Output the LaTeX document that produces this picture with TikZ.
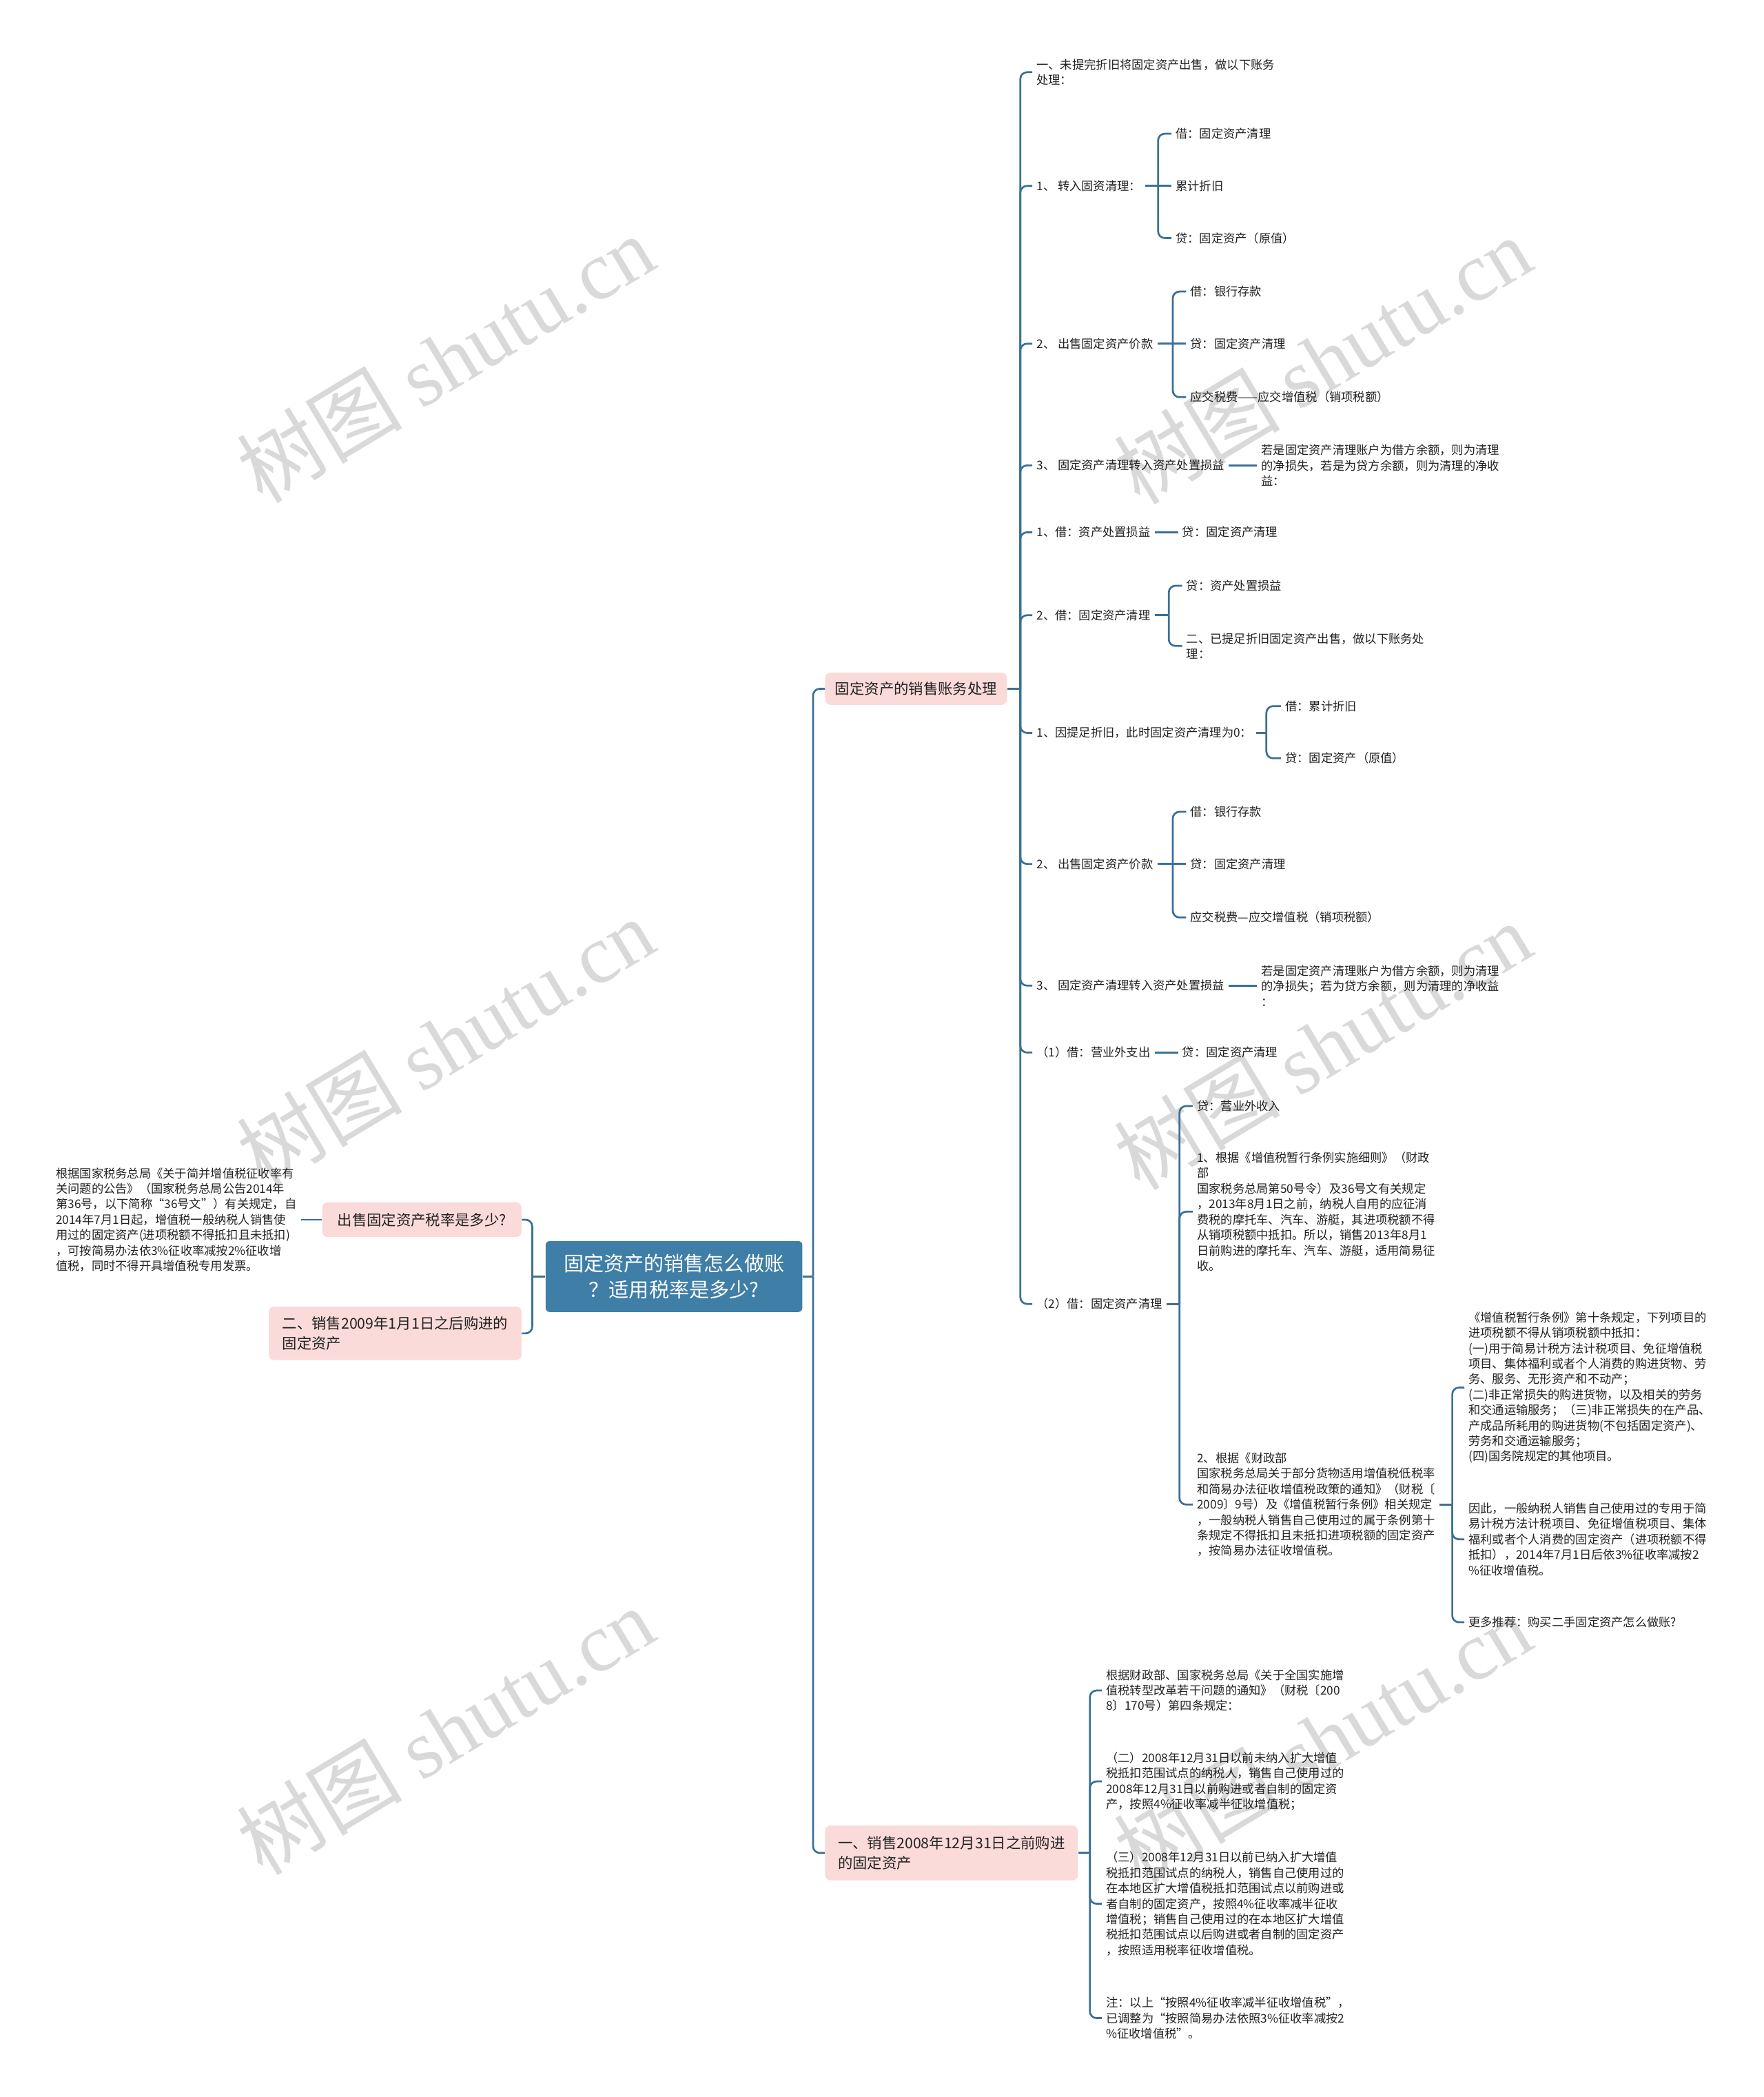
\documentclass[tikz,border=0pt]{standalone}
\usepackage{fontspec}
\setmainfont{Noto Sans CJK SC}
\newfontfamily\wmlatin{Liberation Serif}
\definecolor{linec}{HTML}{3B7096}
\definecolor{rootc}{HTML}{3F7EA6}
\definecolor{pinkc}{HTML}{FADBDA}
\definecolor{wmc}{HTML}{D9D9D9}
\definecolor{txtc}{HTML}{222222}
\tikzset{
  conn/.style={draw=linec, line width=1.4pt, rounded corners=5pt},
  leaf/.style={anchor=west, inner xsep=3pt, inner ysep=1pt, align=left, font=\fontsize{8.9}{11.55}\selectfont, text=txtc},
  br/.style={fill=pinkc, rounded corners=4pt, inner sep=0pt, font=\fontsize{11}{14.5}\selectfont, text=txtc},
  rootbox/.style={fill=rootc, rounded corners=3pt, inner sep=0pt, minimum width=192pt, minimum height=53pt, align=center, text=white, font=\fontsize{15}{20}\selectfont},
  wm/.style={rotate=31, text=wmc, font=\fontsize{62}{64}\selectfont}
}
\begin{document}
\begin{tikzpicture}[x=1pt,y=-1pt]
\useasboundingbox (0,0) rectangle (1319,1568);
\fill[white] (0,0) rectangle (1319,1568);
% watermarks
\node[wm] (wm1) at (333,268) {树图 {\wmlatin shutu.cn}};
\node[wm] (wm2) at (989,269) {树图 {\wmlatin shutu.cn}};
\node[wm] (wm3) at (333,779) {树图 {\wmlatin shutu.cn}};
\node[wm] (wm4) at (989,782) {树图 {\wmlatin shutu.cn}};
\node[wm] (wm5) at (333,1294) {树图 {\wmlatin shutu.cn}};
\node[wm] (wm6) at (989,1300) {树图 {\wmlatin shutu.cn}};
% root and main branches
\node[rootbox] (root) at (504,954.5) {固定资产的销售怎么做账\\？适用税率是多少?};
\node[br, minimum width=149pt, minimum height=26pt] (b1) at (315.5,912) {出售固定资产税率是多少?};
\node[br, minimum width=189pt, minimum height=40pt, align=left] (b2) at (295.5,997) {二、销售2009年1月1日之后购进的\\固定资产};
\node[br, minimum width=136pt, minimum height=24pt] (b3) at (685,515) {固定资产的销售账务处理};
\node[br, minimum width=189pt, minimum height=41pt, align=left] (b4) at (711.5,1385.5) {一、销售2008年12月31日之前购进\\的固定资产};
% left leaf
\node[leaf, anchor=east] (l0) at (225,912) {根据国家税务总局《关于简并增值税征收率有\\关问题的公告》（国家税务总局公告2014年\\第36号，以下简称“36号文”）有关规定，自\\2014年7月1日起，增值税一般纳税人销售使\\用过的固定资产(进项税额不得抵扣且未抵扣)\\，可按简易办法依3\%征收率减按2\%征收增\\值税，同时不得开具增值税专用发票。};
% children of b3
\node[leaf] (c1) at (772,54) {一、未提完折旧将固定资产出售，做以下账务\\处理：};
\node[leaf] (c2) at (772,139) {1、 转入固资清理：};
\node[leaf] (c2a) at (876,100) {借：固定资产清理};
\node[leaf] (c2b) at (876,139) {累计折旧};
\node[leaf] (c2c) at (876,178) {贷：固定资产（原值）};
\node[leaf] (c3) at (772,257) {2、 出售固定资产价款};
\node[leaf] (c3a) at (887,218) {借：银行存款};
\node[leaf] (c3b) at (887,257) {贷：固定资产清理};
\node[leaf] (c3c) at (887,297) {应交税费——应交增值税（销项税额）};
\node[leaf] (c4) at (772,348) {3、 固定资产清理转入资产处置损益};
\node[leaf] (c4a) at (940,348) {若是固定资产清理账户为借方余额，则为清理\\的净损失，若是为贷方余额，则为清理的净收\\益：};
\node[leaf] (c5) at (772,398) {1、借：资产处置损益};
\node[leaf] (c5a) at (881,398) {贷：固定资产清理};
\node[leaf] (c6) at (772,460) {2、借：固定资产清理};
\node[leaf] (c6a) at (884,438) {贷：资产处置损益};
\node[leaf] (c6b) at (884,483) {二、已提足折旧固定资产出售，做以下账务处\\理：};
\node[leaf] (c7) at (772,548) {1、因提足折旧，此时固定资产清理为0：};
\node[leaf] (c7a) at (958,528) {借：累计折旧};
\node[leaf] (c7b) at (958,567) {贷：固定资产（原值）};
\node[leaf] (c8) at (772,646) {2、 出售固定资产价款};
\node[leaf] (c8a) at (887,607) {借：银行存款};
\node[leaf] (c8b) at (887,646) {贷：固定资产清理};
\node[leaf] (c8c) at (887,686) {应交税费—应交增值税（销项税额）};
\node[leaf] (c9) at (772,737) {3、 固定资产清理转入资产处置损益};
\node[leaf] (c9a) at (940,737) {若是固定资产清理账户为借方余额，则为清理\\的净损失；若为贷方余额，则为清理的净收益\\：};
\node[leaf] (c10) at (772,787) {（1）借：营业外支出};
\node[leaf] (c10a) at (881,787) {贷：固定资产清理};
\node[leaf] (c11) at (772,975) {（2）借：固定资产清理};
\node[leaf] (c11a) at (892,827) {贷：营业外收入};
\node[leaf] (c11b) at (892,906) {1、根据《增值税暂行条例实施细则》（财政\\部\\国家税务总局第50号令）及36号文有关规定\\，2013年8月1日之前，纳税人自用的应征消\\费税的摩托车、汽车、游艇，其进项税额不得\\从销项税额中抵扣。所以，销售2013年8月1\\日前购进的摩托车、汽车、游艇，适用简易征\\收。};
\node[leaf] (c11c) at (892,1125) {2、根据《财政部\\国家税务总局关于部分货物适用增值税低税率\\和简易办法征收增值税政策的通知》（财税〔\\2009〕9号）及《增值税暂行条例》相关规定\\，一般纳税人销售自己使用过的属于条例第十\\条规定不得抵扣且未抵扣进项税额的固定资产\\，按简易办法征收增值税。};
\node[leaf] (d1) at (1095,1037.5) {《增值税暂行条例》第十条规定，下列项目的\\进项税额不得从销项税额中抵扣：\\(一)用于简易计税方法计税项目、免征增值税\\项目、集体福利或者个人消费的购进货物、劳\\务、服务、无形资产和不动产；\\(二)非正常损失的购进货物，以及相关的劳务\\和交通运输服务；（三)非正常损失的在产品、\\产成品所耗用的购进货物(不包括固定资产)、\\劳务和交通运输服务；\\(四)国务院规定的其他项目。};
\node[leaf] (d2) at (1095,1151) {因此，一般纳税人销售自己使用过的专用于简\\易计税方法计税项目、免征增值税项目、集体\\福利或者个人消费的固定资产（进项税额不得\\抵扣），2014年7月1日后依3\%征收率减按2\\\%征收增值税。};
\node[leaf] (d3) at (1095,1213) {更多推荐：购买二手固定资产怎么做账?};
% children of b4
\node[leaf] (e1) at (824,1264) {根据财政部、国家税务总局《关于全国实施增\\值税转型改革若干问题的通知》（财税〔200\\8〕170号）第四条规定：};
\node[leaf] (e2) at (824,1332) {（二）2008年12月31日以前未纳入扩大增值\\税抵扣范围试点的纳税人，销售自己使用过的\\2008年12月31日以前购进或者自制的固定资\\产，按照4\%征收率减半征收增值税；};
\node[leaf] (e3) at (824,1423.5) {（三）2008年12月31日以前已纳入扩大增值\\税抵扣范围试点的纳税人，销售自己使用过的\\在本地区扩大增值税抵扣范围试点以前购进或\\者自制的固定资产，按照4\%征收率减半征收\\增值税；销售自己使用过的在本地区扩大增值\\税抵扣范围试点以后购进或者自制的固定资产\\，按照适用税率征收增值税。};
\node[leaf] (e4) at (824,1509) {注：以上“按照4\%征收率减半征收增值税”，\\已调整为“按照简易办法依照3\%征收率减按2\\\%征收增值税”。};
% connectors: root
\coordinate (j0) at (608,954.5);
\draw[conn] (root.east) -- (j0);
\draw[conn] (j0) |- (b3.west);
\draw[conn] (j0) |- (b4.west);
\coordinate (j1) at (398,954.5);
\draw[conn] (root.west) -- (j1);
\draw[conn] (j1) |- (b1.east);
\draw[conn] (j1) |- (b2.east);
\draw[conn] (b1.west) -- (l0.east);
% b3 subtree
\coordinate (j2) at (763,515);
\draw[conn] (b3.east) -- (j2);
\foreach \n in {c1,c2,c3,c4,c5,c6,c7,c8,c9,c10,c11} {\draw[conn] (j2) |- (\n.west);}
\coordinate (j3) at (866,139);
\draw[conn] (c2.east) -- (j3);
\draw[conn] (j3) |- (c2a.west);
\draw[conn] (j3) -- (c2b.west);
\draw[conn] (j3) |- (c2c.west);
\coordinate (j4) at (877,257);
\draw[conn] (c3.east) -- (j4);
\draw[conn] (j4) |- (c3a.west);
\draw[conn] (j4) -- (c3b.west);
\draw[conn] (j4) |- (c3c.west);
\draw[conn] (c4.east) -- (c4a.west);
\draw[conn] (c5.east) -- (c5a.west);
\coordinate (j5) at (874,460);
\draw[conn] (c6.east) -- (j5);
\draw[conn] (j5) |- (c6a.west);
\draw[conn] (j5) |- (c6b.west);
\coordinate (j6) at (947,548);
\draw[conn] (c7.east) -- (j6);
\draw[conn] (j6) |- (c7a.west);
\draw[conn] (j6) |- (c7b.west);
\coordinate (j7) at (877,646);
\draw[conn] (c8.east) -- (j7);
\draw[conn] (j7) |- (c8a.west);
\draw[conn] (j7) -- (c8b.west);
\draw[conn] (j7) |- (c8c.west);
\draw[conn] (c9.east) -- (c9a.west);
\draw[conn] (c10.east) -- (c10a.west);
\coordinate (j8) at (882,975);
\draw[conn] (c11.east) -- (j8);
\draw[conn] (j8) |- (c11a.west);
\draw[conn] (j8) |- (c11b.west);
\draw[conn] (j8) |- (c11c.west);
\coordinate (j9) at (1086,1125);
\draw[conn] (c11c.east) -- (j9);
\draw[conn] (j9) |- (d1.west);
\draw[conn] (j9) |- (d2.west);
\draw[conn] (j9) |- (d3.west);
% b4 subtree
\coordinate (j10) at (815,1385.5);
\draw[conn] (b4.east) -- (j10);
\draw[conn] (j10) |- (e1.west);
\draw[conn] (j10) |- (e2.west);
\draw[conn] (j10) |- (e3.west);
\draw[conn] (j10) |- (e4.west);
\end{tikzpicture}
\end{document}
